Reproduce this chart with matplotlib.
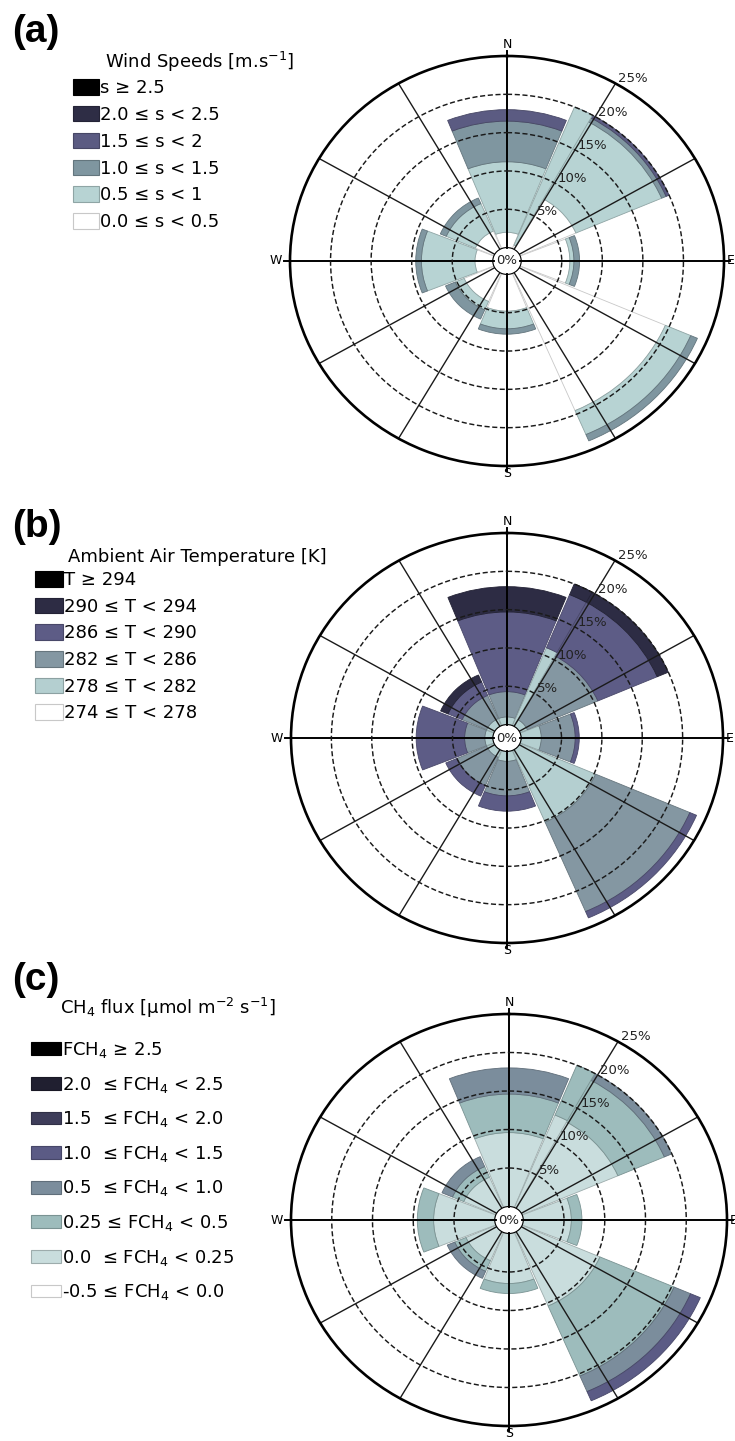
import numpy as np
import matplotlib.pyplot as plt
from matplotlib.patches import Patch
from matplotlib.colors import to_rgb

plt.rcParams['font.family'] = ['DejaVu Sans']
plt.rcParams['mathtext.default'] = 'regular'

W, H = 735, 1441

# sector centres, degrees clockwise from north
directions = [0, 45, 90, 135, 180, 225, 270, 315]
# narrow sub-sector on the west edge of the NE sector
strip_dir = 25.75

# % of time per class and direction, innermost (lowest) class first
speed_labels = ['0.0 ≤ s < 0.5', '0.5 ≤ s < 1', '1.0 ≤ s < 1.5',
                '1.5 ≤ s < 2', '2.0 ≤ s < 2.5', 's ≥ 2.5']
speed_colors = ['#ffffff', '#b7d3d3', '#7f96a0', '#5b5b82', '#2e2d45', '#000000']
speed_freq = [[2.0, 9.2, 5.3, 1.5, 0, 0],
              [7.5, 11.5, 0.6, 0.4, 0, 0],
              [6.0, 0.5, 0.7, 0, 0, 0],
              [19.5, 3.4, 0.9, 0, 0, 0],
              [4.8, 2.3, 0.7, 0, 0, 0],
              [4.0, 1.2, 1.3, 0, 0, 0],
              [2.2, 6.6, 0.7, 0, 0, 0],
              [2.5, 3.9, 0.8, 0, 0, 0]]
speed_strip = [0.5, 19.5, 0, 0, 0, 0]

temp_labels = ['274 ≤ T < 278', '278 ≤ T < 282', '282 ≤ T < 286',
               '286 ≤ T < 290', '290 ≤ T < 294', 'T ≥ 294']
temp_colors = ['#ffffff', '#b4cfd0', '#8497a2', '#5d5c86', '#2d2c44', '#000000']
temp_freq = [[0, 1.0, 3.3, 10.4, 3.3, 0],
             [0, 1.0, 9.5, 8.0, 1.5, 0],
             [0, 2.5, 4.2, 0.5, 0, 0],
             [0, 10.2, 12.7, 0.9, 0, 0],
             [0, 1.3, 4.5, 2.0, 0, 0],
             [0, 1.0, 4.0, 1.5, 0, 0],
             [0, 1.0, 2.5, 6.0, 0, 0],
             [0, 1.0, 3.3, 1.9, 1.0, 0]]
temp_strip = [0, 11.0, 0, 7.5, 1.5, 0]

flux_labels = ['-0.5 ≤ FCH$_4$ < 0.0', '0.0  ≤ FCH$_4$ < 0.25',
               '0.25 ≤ FCH$_4$ < 0.5', '0.5  ≤ FCH$_4$ < 1.0',
               '1.0  ≤ FCH$_4$ < 1.5', '1.5  ≤ FCH$_4$ < 2.0',
               '2.0  ≤ FCH$_4$ < 2.5', 'FCH$_4$ ≥ 2.5']
flux_colors = ['#ffffff', '#c9dddd', '#9dbcbc', '#7b8d9c',
               '#5b5b85', '#3e3d5a', '#201f30', '#000000']
flux_freq = [[0, 9.6, 5.0, 3.4, 0, 0, 0, 0],
             [0, 12.8, 6.2, 1.0, 0, 0, 0, 0],
             [0, 5.9, 1.3, 0, 0, 0, 0, 0],
             [0, 10.4, 9.9, 2.2, 1.3, 0, 0, 0],
             [0, 6.5, 1.3, 0, 0, 0, 0, 0],
             [0, 4.0, 1.5, 1.0, 0, 0, 0, 0],
             [0, 7.5, 2.0, 0, 0, 0, 0, 0],
             [0, 4.3, 1.5, 1.4, 0, 0, 0, 0]]
flux_strip = [0, 13.0, 7.0, 0, 0, 0, 0, 0]

ring_ticks = [5, 10, 15, 20, 25]


def edge_of(c):
    if c == '#ffffff':
        return '#c8c8c8'
    return tuple(np.array(to_rgb(c)) * 0.78)


def stack(ax, theta, width, freq, colors):
    freq = np.atleast_2d(np.array(freq, dtype=float))
    bottom = np.zeros(freq.shape[0])
    for k in range(freq.shape[1]):
        h = freq[:, k]
        keep = h > 0
        if keep.any():
            ax.bar(theta[keep], h[keep], width=width, bottom=bottom[keep],
                   color=colors[k], edgecolor=edge_of(colors[k]),
                   linewidth=0.6, zorder=1)
        bottom += h


def draw_rose(cx, cy, rx, ry, freq, strip, colors):
    rect = [(cx - rx) / W, 1 - (cy + ry) / H, 2 * rx / W, 2 * ry / H]
    ax = fig.add_axes(rect, projection='polar')
    ax.set_aspect('auto')
    ax.set_theta_zero_location('N')
    ax.set_theta_direction(-1)
    ax.set_ylim(0, 25)
    ax.set_rorigin(-1.75)

    stack(ax, np.radians(directions), np.radians(43.5), freq, colors)
    stack(ax, np.radians([strip_dir]), np.radians(6.5), [strip], colors)

    # dashed rings
    ax.set_rticks([5, 10, 15, 20])
    ax.set_yticklabels([])
    ax.yaxis.grid(True, color='#1a1a1a', linestyle=(0, (3.5, 1.8)),
                  linewidth=1.05)
    ax.set_xticks([])
    ax.xaxis.grid(False)
    ax.set_axisbelow(False)
    ax.spines['polar'].set_linewidth(1.9)
    if 'inner' in ax.spines:
        ax.spines['inner'].set_visible(False)

    # spokes
    for a in range(0, 360, 30):
        if a % 90 == 0:
            ax.plot([np.radians(a)] * 2, [-1.7, 25.7], color='black',
                    linewidth=1.4, zorder=2, clip_on=False)
        else:
            ax.plot([np.radians(a)] * 2, [-1.7, 25], color='#1a1a1a',
                    linewidth=1.0, zorder=2)

    for v in ring_ticks:
        ax.text(np.radians(30), v + 0.7, f'{v}%', ha='left', va='center',
                fontsize=9.5, color='#222222', zorder=4)
    ax.text(0, -1.75, '0%', ha='center', va='center', fontsize=9.5,
            color='#222222', zorder=5,
            bbox=dict(boxstyle='circle,pad=0.12', facecolor='white',
                      edgecolor='none'))

    ax.text(0, 25.6, 'N', ha='center', va='bottom', fontsize=9)
    ax.text(np.pi, 25.15, 'S', ha='center', va='top', fontsize=9)
    ax.text(np.radians(270), 26.0, 'W', ha='right', va='center', fontsize=9)
    ax.text(np.radians(90), 25.35, 'E', ha='left', va='center', fontsize=9)
    return ax


def add_legend(ax, labels, colors, x, y, hl, hh, ls):
    handles = [Patch(facecolor=c, edgecolor=edge_of(c), linewidth=0.8)
               for c in colors[::-1]]
    ax.legend(handles, labels[::-1], loc='upper left',
              bbox_to_anchor=(x / W, 1 - y / H), bbox_transform=fig.transFigure,
              frameon=False, borderpad=0, borderaxespad=0, handlelength=hl,
              handleheight=hh, handletextpad=0.05, labelspacing=ls,
              fontsize=13)


fig = plt.figure(figsize=(W / 100, H / 100), dpi=100)

ax_a = draw_rose(507, 261, 217, 205, speed_freq, speed_strip, speed_colors)
ax_b = draw_rose(507, 738, 216, 205, temp_freq, temp_strip, temp_colors)
ax_c = draw_rose(509, 1220, 218, 206, flux_freq, flux_strip, flux_colors)

add_legend(ax_a, speed_labels, speed_colors, 73, 79, 1.45, 0.95, 0.49)
add_legend(ax_b, temp_labels, temp_colors, 35, 571, 1.55, 0.95, 0.48)
add_legend(ax_c, flux_labels, flux_colors, 31, 1040, 1.65, 0.7, 0.81)

fig.text(105 / W, 1 - 62 / H, 'Wind Speeds [m.s$^{-1}$]', fontsize=13,
         va='center')
fig.text(68 / W, 1 - 557 / H, 'Ambient Air Temperature [K]', fontsize=13,
         va='center')
fig.text(60 / W, 1 - 1008 / H, r'CH$_4$ flux [$\mu$mol m$^{-2}$ s$^{-1}$]',
         fontsize=13, va='center')

for lab, yy in [('(a)', 32), ('(b)', 527), ('(c)', 980)]:
    fig.text(12 / W, 1 - yy / H, lab, fontsize=28, fontweight='bold',
             family='Liberation Sans', va='center')

fig.savefig('out.png', dpi=100)
